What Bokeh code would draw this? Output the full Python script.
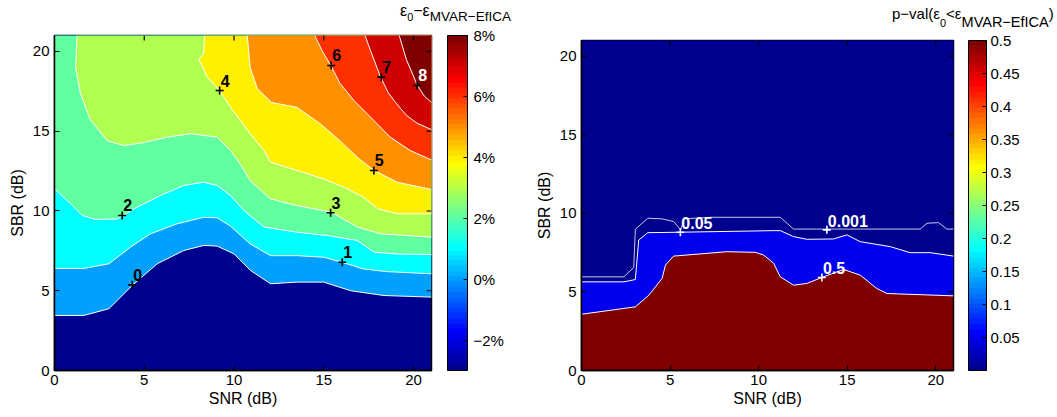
import numpy as np
from bokeh.plotting import figure
from bokeh.models import (ColorBar, LinearColorMapper, FixedTicker, Range1d, CustomJSTickFormatter, Div)
from bokeh.layouts import row, column
from bokeh.embed import file_html
from bokeh.resources import INLINE
from bokeh.core.properties import value

FONT = "Liberation Sans"

# ---------------- shared axes ----------------
axis_ticks = [0, 5, 10, 15, 20]
x_label = "SNR (dB)"
y_label = "SBR (dB)"
AX_MAX = 21

# ---------------- left panel: eps0 - eps_MVAR-EfICA (%) contour lines ----------------
c0_x = [0, 1.63, 3.03, 4.33, 5.72, 7.2, 8.32, 9.06, 10.0, 10.92, 12.03, 13.52, 15.0, 16.5, 18.35, 21]
c0_y = [3.45, 3.45, 3.87, 5.33, 6.69, 7.52, 7.84, 7.8, 7.31, 6.27, 5.44, 5.54, 5.54, 5.0, 4.7, 4.6]
c1_x = [0, 1.63, 3.03, 4.23, 5.35, 6.84, 8.3, 9.06, 9.8, 10.9, 12.03, 13.5, 15.0, 16.0, 17.2, 18.5, 21]
c1_y = [6.4, 6.4, 6.69, 7.73, 8.57, 9.2, 9.6, 9.57, 9.05, 7.94, 7.2, 7.2, 7.1, 6.79, 6.37, 6.2, 6.06]
c2_x = [0, 0.9, 1.54, 2.28, 3.5, 4.6, 5.9, 7.2, 8.3, 9.06, 9.8, 10.55, 11.66, 13.5, 15.2, 16.86, 17.8, 19.1, 21]
c2_y = [11.4, 10.45, 9.72, 9.47, 9.5, 10.24, 10.97, 11.6, 11.8, 11.6, 10.97, 10.03, 9.0, 8.67, 8.46, 8.15, 7.42, 7.3, 7.27]
c3_x = [1.26, 1.17, 1.45, 2.0, 2.94, 3.86, 4.8, 6.28, 7.58, 9.06, 9.8, 10.46, 10.9, 12.03, 13.5, 15.4, 16.86, 18.16, 21]
c3_y = [21, 19.0, 17.35, 15.7, 14.4, 14.1, 14.25, 14.63, 14.84, 14.63, 13.8, 12.75, 11.9, 10.76, 10.34, 9.93, 9.0, 8.57, 8.36]
c4_x = [8.36, 8.3, 8.04, 8.5, 9.2, 9.8, 10.9, 11.66, 12.03, 13.5, 15.0, 16.1, 17.2, 18.0, 19.1, 21]
c4_y = [21, 19.85, 19.5, 18.4, 17.55, 16.5, 14.84, 13.8, 13.06, 12.54, 12.0, 11.5, 10.87, 10.14, 9.82, 9.82]
c5_x = [10.74, 10.9, 11.3, 12.1, 13.5, 14.8, 15.9, 16.86, 17.8, 19.1, 21]
c5_y = [21, 19.0, 17.66, 16.8, 16.5, 15.47, 14.4, 13.37, 12.54, 11.8, 11.35]
c6_x = [14.5, 14.9, 15.4, 15.9, 16.7, 17.5, 18.7, 19.8, 21]
c6_y = [21, 20.06, 19.1, 18.0, 16.9, 16.0, 14.63, 13.8, 13.2]
c7_x = [17.3, 17.6, 18.16, 18.6, 19.0, 19.6, 20.2, 21]
c7_y = [21, 20.06, 18.4, 17.4, 16.8, 16.0, 15.5, 15.1]
c8_x = [19.2, 19.6, 20.2, 20.6, 21]
c8_y = [21, 19.5, 17.9, 17.2, 16.8]

left_label_text = ["0", "1", "2", "3", "4", "5", "6", "7", "8"]
left_label_x = [4.33, 16.03, 3.77, 15.38, 9.2, 17.79, 15.41, 18.2, 20.2]
left_label_y = [5.37, 6.79, 9.72, 9.89, 17.55, 12.54, 19.12, 18.39, 17.87]

left_cbar_ticks = [-2, 0, 2, 4, 6, 8]
left_cbar_low, left_cbar_high = -3, 8
left_title = ("\u03b5", "0", "\u2212\u03b5", "MVAR\u2212EfICA", "")

# ---------------- right panel: p-value contour lines ----------------
p001_x = [0, 2.39, 2.95, 3.04, 3.74, 4.55, 5.2, 5.6, 5.8, 7.27, 11.22, 11.97, 19.12, 19.5, 20.15, 20.62, 21]
p001_y = [5.96, 5.96, 6.56, 8.99, 9.69, 9.65, 9.48, 8.95, 9.65, 9.75, 9.75, 9.0, 9.0, 9.37, 9.41, 9.0, 9.0]
p05_x = [0, 2.39, 3.04, 3.23, 3.74, 5.58, 10.85, 11.22, 11.97, 12.72, 14.23, 14.98, 15.73, 17.43, 18.55, 19.68, 21]
p05_y = [5.64, 5.64, 5.79, 8.3, 8.77, 8.8, 8.9, 8.9, 8.52, 8.35, 8.37, 8.63, 8.2, 7.88, 7.5, 7.5, 7.28]
p5_x = [0, 3.04, 3.8, 4.55, 4.74, 5.2, 8.21, 9.81, 10.28, 10.85, 11.22, 11.97, 12.72, 13.57, 14.79, 15.73, 16.67, 17.24, 21]
p5_y = [3.58, 4.05, 4.79, 5.86, 6.71, 7.28, 7.56, 7.52, 7.35, 6.82, 5.96, 5.43, 5.54, 5.92, 6.43, 6.07, 5.22, 4.9, 4.75]

right_label_text = ["0.05", "0.001", "0.5"]
right_label_x = [5.58, 13.85, 13.57]
right_label_y = [8.8, 8.95, 5.92]

right_cbar_ticks = [0.05, 0.1, 0.15, 0.2, 0.25, 0.3, 0.35, 0.4, 0.45, 0.5]
right_cbar_low, right_cbar_high = 0, 0.5
right_title = ("p\u2212val(\u03b5", "0", "<\u03b5", "MVAR\u2212EfICA", ")")

# ---------------- styles ----------------
left_band_colors = ["#00008F", "#00A0FF", "#00FFFF", "#60FFA0", "#B0FF50",
                    "#FFF000", "#FF9000", "#FF3000", "#CF0000", "#800000"]
right_band_colors = ["#800000", "#0000EF", "#00008F"]

# layout (page pixels)
L_STRIP, R_STRIP = 26, 31
L_LEFT, L_FW, L_FH, L_TOP = 54, 377, 335, 9
R_LEFT, R_FW, R_FH, R_TOP = 46, 372, 330, 9
L_W = 532
R_W = 523
BOTTOM = 45
TICK_PX = 5
CB_PAD = 8


def jet(m=64):
    n = int(np.ceil(m / 4))
    u = np.concatenate([np.arange(1, n + 1) / n, np.ones(n - 1), np.arange(n, 0, -1) / n])
    g = int(np.ceil(n / 2)) - (1 if m % 4 == 1 else 0) + np.arange(1, len(u) + 1)
    J = np.zeros((m, 3))
    for idx, col in ((g + n, 0), (g, 1), (g - n, 2)):
        mask = (idx >= 1) & (idx <= m)
        J[idx[mask] - 1, col] = u[mask]
    return ["#%02x%02x%02x" % tuple(int(round(c * 255)) for c in r) for r in J]


JET = jet(64)


def above_polygon(xs, ys):
    """Region above a contour line, closed through the top edge of the axes."""
    if ys[0] >= AX_MAX:
        return list(xs) + [AX_MAX], list(ys) + [AX_MAX]
    return list(xs) + [AX_MAX, 0], list(ys) + [AX_MAX, AX_MAX]


def style_axis(ax):
    ax.axis_line_color = "black"
    ax.axis_line_width = 1.5
    ax.major_tick_in = 5
    ax.major_tick_out = 0
    ax.major_tick_line_color = "black"
    ax.major_tick_line_width = 1.2
    ax.minor_tick_line_color = None
    ax.major_label_text_font = FONT
    ax.major_label_text_font_size = "15px"
    ax.major_label_text_color = "black"
    ax.axis_label_text_font = FONT
    ax.axis_label_text_font_size = "16px"
    ax.axis_label_text_font_style = "normal"
    ax.axis_label_text_color = "black"


def base_panel(left, fw, fh, top, width, bg):
    p = figure(frame_width=fw, frame_height=fh,
               x_range=Range1d(0, AX_MAX), y_range=Range1d(0, AX_MAX),
               min_border_left=left, min_border_right=width - left - fw,
               min_border_top=top, min_border_bottom=BOTTOM,
               output_backend="svg", toolbar_location=None,
               background_fill_color=bg, border_fill_color="white")
    p.grid.visible = False
    p.outline_line_color = "black"
    p.outline_line_width = 1.5
    p.xaxis.ticker = FixedTicker(ticks=axis_ticks)
    p.yaxis.ticker = FixedTicker(ticks=axis_ticks)
    p.xaxis.axis_label = x_label
    p.yaxis.axis_label = y_label
    for ax in list(p.xaxis) + list(p.yaxis):
        style_axis(ax)
    p.xaxis.major_label_standoff = 4
    p.xaxis.axis_label_standoff = 2
    p.yaxis.major_label_standoff = 5
    p.yaxis.axis_label_standoff = 4
    return p


def box_ticks(p, fw, fh):
    """Inward tick marks on the top and right edges (MATLAB 'box on')."""
    dy = TICK_PX * AX_MAX / fh
    dx = TICK_PX * AX_MAX / fw
    t = [v for v in axis_ticks if 0 < v < AX_MAX]
    p.segment(x0=t, x1=t, y0=[AX_MAX] * len(t), y1=[AX_MAX - dy] * len(t),
              line_color="black", line_width=1.2)
    p.segment(x0=[AX_MAX] * len(t), x1=[AX_MAX - dx] * len(t), y0=t, y1=t,
              line_color="black", line_width=1.2)


def add_colorbar(p, low, high, ticks, js_fmt, height, width, gap, standoff):
    mapper = LinearColorMapper(palette=JET, low=low, high=high)
    cb = ColorBar(color_mapper=mapper, ticker=FixedTicker(ticks=ticks),
                  formatter=CustomJSTickFormatter(code=js_fmt),
                  width=width, height=height, padding=CB_PAD, margin=0,
                  location=(gap - CB_PAD, -CB_PAD),
                  bar_line_color="black", bar_line_width=1,
                  major_tick_line_color="black", major_tick_in=4, major_tick_out=0,
                  minor_tick_line_color=None,
                  major_label_text_font=FONT, major_label_text_font_size="15px",
                  major_label_text_color="black", label_standoff=standoff,
                  background_fill_color=None, border_line_color=None)
    p.add_layout(cb, "right")
    return cb


def title_div(width, height, left, top, main_px, sub_px0, sub_px, sub_drop, parts):
    """Colour-bar title with sub-scripts, as real HTML text above the colour bar."""
    a, s0, b, s1, c = parts
    html = (
        '<div style="position:relative;width:%dpx;height:%dpx;">'
        '<span style="position:absolute;left:%gpx;top:%gpx;font-family:\'%s\',sans-serif;'
        'font-size:%gpx;line-height:%gpx;color:#000;white-space:nowrap;">'
        '%s<span style="font-size:%gpx;position:relative;top:%gpx;">%s</span>'
        '%s<span style="font-size:%gpx;position:relative;top:%gpx;">%s</span>%s</span></div>'
        % (width, height, left, top, FONT, main_px, main_px,
           a, sub_px0, sub_drop, s0, b, sub_px, sub_drop, s1, c))
    return Div(text=html, width=width, height=height, margin=0)


# ================= left figure =================
p1 = base_panel(L_LEFT, L_FW, L_FH, L_TOP, L_W, left_band_colors[0])
left_lines = [(c0_x, c0_y), (c1_x, c1_y), (c2_x, c2_y), (c3_x, c3_y), (c4_x, c4_y),
              (c5_x, c5_y), (c6_x, c6_y), (c7_x, c7_y), (c8_x, c8_y)]
polys = [above_polygon(xs, ys) for xs, ys in left_lines]
p1.patches(xs=[pp[0] for pp in polys], ys=[pp[1] for pp in polys],
           fill_color=left_band_colors[1:], line_color=None)
p1.multi_line(xs=[l[0] for l in left_lines], ys=[l[1] for l in left_lines],
              line_color="white", line_width=1)
p1.scatter(x=left_label_x, y=left_label_y, marker="cross", size=8,
           line_color="black", line_width=1.6)
p1.text(x=left_label_x, y=left_label_y, text=left_label_text,
        text_color=["black"] * 8 + ["white"], x_offset=1, y_offset=-10,
        text_font=value(FONT), text_font_style="bold", text_font_size="16px",
        text_baseline="middle")
box_ticks(p1, L_FW, L_FH)
add_colorbar(p1, left_cbar_low, left_cbar_high, left_cbar_ticks,
             "return (tick < 0 ? '\u2212' : '') + Math.abs(tick) + '%';", L_FH, 20, 16, 6)

# ================= right figure =================
p2 = base_panel(R_LEFT, R_FW, R_FH, R_TOP, R_W, right_band_colors[0])
right_fill = [(p5_x, p5_y), (p05_x, p05_y)]
polys2 = [above_polygon(xs, ys) for xs, ys in right_fill]
p2.patches(xs=[pp[0] for pp in polys2], ys=[pp[1] for pp in polys2],
           fill_color=right_band_colors[1:], line_color=None)
p2.multi_line(xs=[p001_x, p05_x, p5_x], ys=[p001_y, p05_y, p5_y],
              line_color=["#c8c8dc", "white", "white"], line_width=1)
p2.scatter(x=right_label_x, y=right_label_y, marker="cross", size=8,
           line_color="white", line_width=1.6)
p2.text(x=right_label_x, y=right_label_y, text=right_label_text,
        text_color="white", x_offset=1, y_offset=-9,
        text_font=value(FONT), text_font_style="bold", text_font_size="16px",
        text_baseline="middle")
box_ticks(p2, R_FW, R_FH)
add_colorbar(p2, right_cbar_low, right_cbar_high, right_cbar_ticks,
             "return String(tick);", R_FH, 18, 15, 4)

# ================= colour-bar titles =================
d1 = title_div(L_W, L_STRIP, 400, 3, 16, 11, 13.5, 5, left_title)
d2 = title_div(R_W, R_STRIP, 892 - L_W, 6, 15, 11, 14.5, 7.5, right_title)

layout = row(column(d1, p1), column(d2, p2))
open("out.html", "w").write(file_html(layout, INLINE))
